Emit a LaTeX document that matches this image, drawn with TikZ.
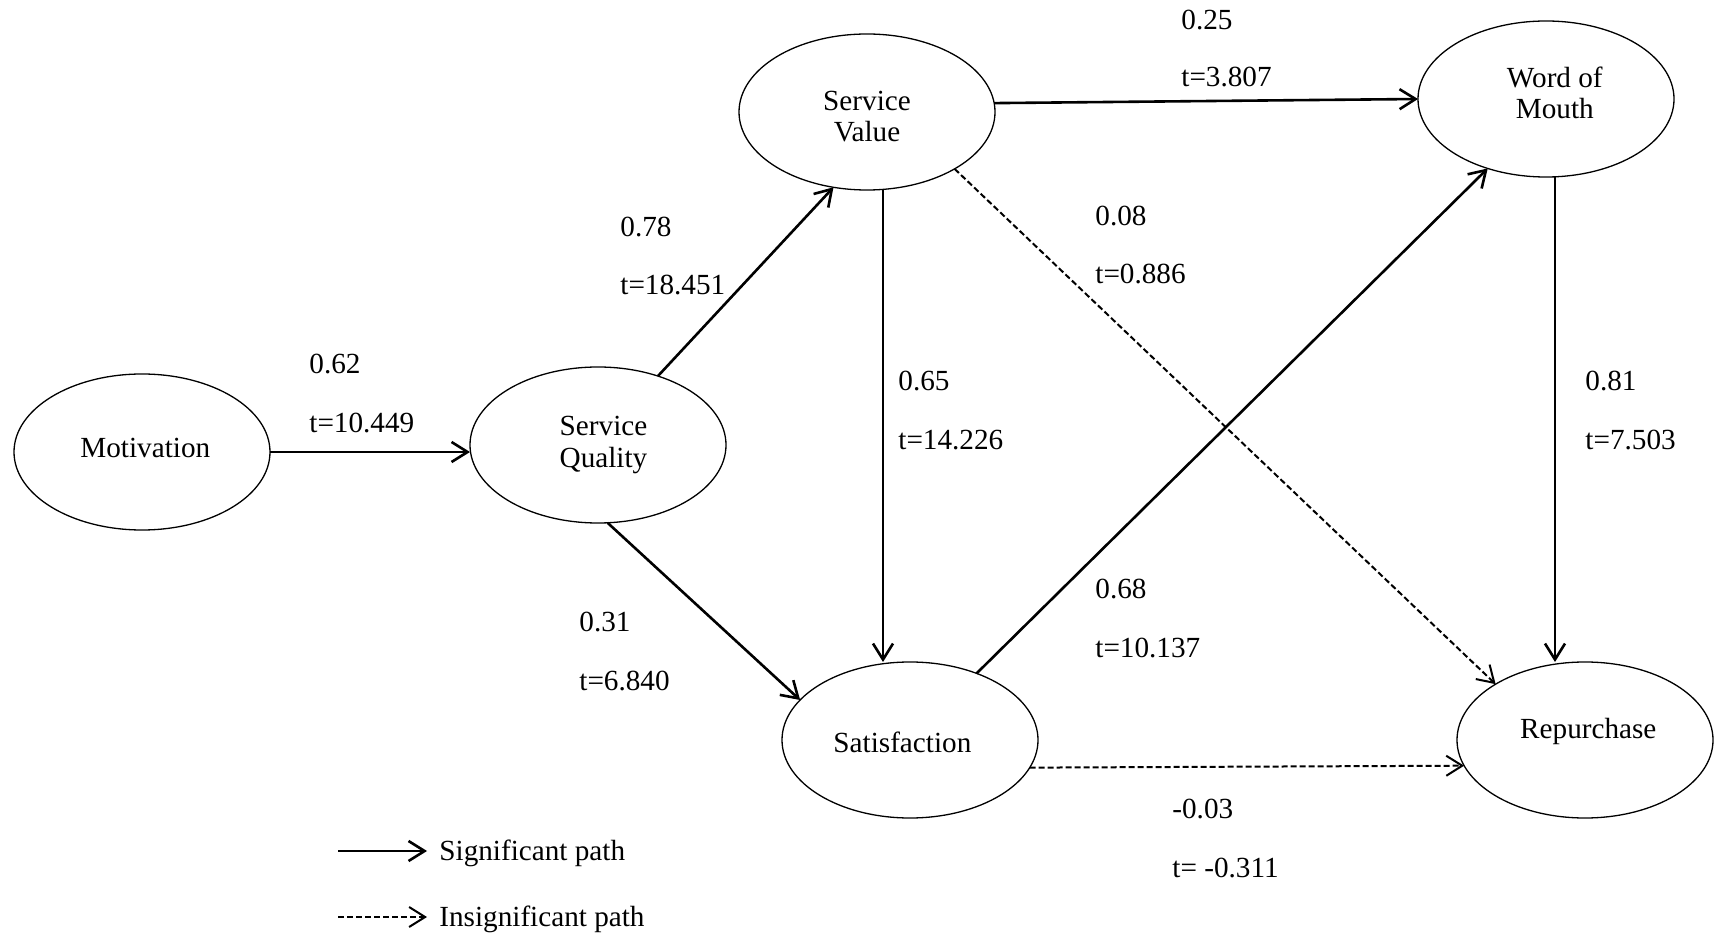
\documentclass[tikz,border=0pt]{standalone}
\usepackage{fontspec}
\setmainfont{Liberation Serif}
\usetikzlibrary{shapes.geometric,arrows.meta}

% construct label: horizontal offset, vertical lift, stacked lines
\newcommand{\cname}[3]{\hspace*{#1}\raisebox{#2}[\height][\depth]{%
  \begin{tabular}{@{}c@{}}#3\end{tabular}}}

\begin{document}
\begin{tikzpicture}[x=0.5pt,y=-0.5pt,
  construct/.style={ellipse,draw,line width=0.65pt,minimum width=128pt,
    minimum height=78pt,inner sep=0pt,outer sep=0pt,
    font=\fontsize{14.6}{15.8}\selectfont},
  coef/.style={anchor=base west,inner sep=0pt,font=\fontsize{14.6}{16}\selectfont},
  sig/.style={line width=1.3pt,-{Straight Barb[length=8pt,width=10pt]}},
  insig/.style={line width=1.0pt,dash pattern=on 3pt off 1.5pt,
    -{Straight Barb[length=8pt,width=10pt]}},
]
\useasboundingbox (0,0) rectangle (1720,935);

% constructs
\node[construct] (Mot) at (142,452) {\cname{3.3pt}{0.5pt}{Motivation}};
\node[construct] (SQ)  at (598,445) {\cname{5.5pt}{0pt}{Service\\Quality}};
\node[construct] (SV)  at (867,112) {\cname{0pt}{-3.8pt}{Service\\Value}};
\node[construct] (WoM) at (1546,99) {\cname{8.8pt}{1.1pt}{Word of\\Mouth}};
\node[construct] (Sat) at (910,740) {\cname{-7.6pt}{-3.2pt}{Satisfaction}};
\node[construct] (Rep) at (1585,740) {\cname{3.3pt}{3.8pt}{Repurchase}};

% paths
\draw[sig] (Mot.east) -- (Mot.east -| SQ.west);
\draw[sig] (SQ.49) -- (SV.246);
\draw[sig] (SQ.277) -- (Sat.160);
\draw[sig] (SV.4) -- (WoM.west);
\draw[sig] ([xshift=8pt]SV.south) -- ([xshift=-13.5pt]Sat.north);
\draw[insig] (SV.327.5) -- (Rep.148);
\draw[sig] (Sat.45) -- (WoM.230);
\draw[sig] ([xshift=4.5pt]WoM.south) -- ([xshift=-15pt]Rep.north);
\draw[insig] (Sat.347) -- (Rep.192);

% path coefficients and t-values
\node[coef] (c1) at (309,374) {0.62};
\node[coef] (t1) at (309,433) {t=10.449};
\node[coef] (c2) at (620,237) {0.78};
\node[coef] (t2) at (620,295) {t=18.451};
\node[coef] (c3) at (579,632) {0.31};
\node[coef] (t3) at (579,690) {t=6.840};
\node[coef] (c4) at (1181,30) {0.25};
\node[coef] (t4) at (1181,87) {t=3.807};
\node[coef] (c5) at (1095,226) {0.08};
\node[coef] (t5) at (1095,284) {t=0.886};
\node[coef] (c6) at (898,391) {0.65};
\node[coef] (t6) at (898,450) {t=14.226};
\node[coef] (c7) at (1095,599) {0.68};
\node[coef] (t7) at (1095,657) {t=10.137};
\node[coef] (c8) at (1585,391) {0.81};
\node[coef] (t8) at (1585,450) {t=7.503};
\node[coef] (c9) at (1172,818) {-0.03};
\node[coef] (t9) at (1172,877) {t= -0.311};

% legend
\node[coef] (legSig) at (439,860) {Significant path};
\node[coef] (legIns) at (439,926) {Insignificant path};
\coordinate (sigA) at (338,851);
\coordinate (sigB) at (427,851);
\coordinate (insA) at (338,917);
\coordinate (insB) at (427,917);
\draw[sig] (sigA) -- (sigB);
\draw[insig] (insA) -- (insB);
\end{tikzpicture}
\end{document}
